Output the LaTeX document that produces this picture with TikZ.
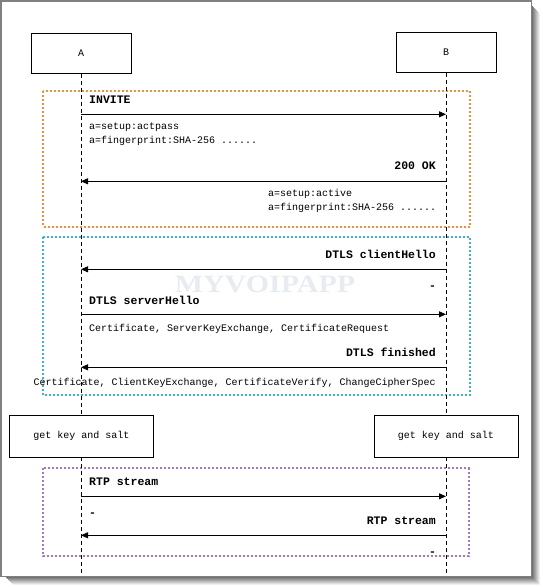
\documentclass[tikz,border=0pt]{standalone}
\usepackage{fontspec}
\usepackage{tikz}
\usetikzlibrary{positioning, arrows.meta}
\newfontfamily\simfont{Liberation Mono}
\newfontfamily\markfont{Liberation Serif}
\definecolor{phaseorange}{RGB}{240,144,60}
\definecolor{phasecyan}{RGB}{64,176,208}
\definecolor{phasepurple}{RGB}{160,120,200}
\definecolor{markgray}{RGB}{230,236,242}

\begin{document}
\begin{tikzpicture}[x=1pt, y=-1pt,
    actor/.style={draw, thick, fill=white, minimum width=100pt, minimum height=40pt, inner sep=0, font=\simfont\fontsize{10}{12}\selectfont},
    keybox/.style={draw, thick, fill=white, minimum width=144pt, minimum height=42pt, inner sep=0, font=\simfont\fontsize{10}{12}\selectfont},
    lifeline/.style={thick, dash pattern=on 4pt off 3pt},
    phase/.style={line width=2pt, dash pattern=on 2pt off 2pt},
    msg/.style={thick, -{Triangle[length=7pt, width=6pt]}},
    label/.style={inner sep=0, font=\simfont\bfseries\fontsize{11.5}{12}\selectfont},
    note/.style={inner sep=0, align=left, font=\simfont\fontsize{10}{14}\selectfont}]
    \useasboundingbox (0,0) rectangle (542,587);

    % Frame with its shadow
    \foreach \i in {1,...,8} {
        \pgfmathtruncatemacro\shade{62-7*\i}
        \draw[black!\shade, line width=1pt] (531.5+\i, 5+\i) -- (531.5+\i, 576.5+\i) -- (5+\i, 576.5+\i);
    }
    \draw[gray, line width=1.5pt] (0.75,0.75) rectangle (531.5,576.5);

    % Phase boxes
    \draw[phase, phaseorange] (43,91) rectangle (470,226.5);
    \draw[phase, phasecyan] (43,237) rectangle (470,395);
    \draw[phase, phasepurple] (43,468) rectangle (468.5,556);

    % Watermark
    \node[inner sep=0, text=markgray, xscale=1.2, font=\markfont\bfseries\fontsize{25}{25}\selectfont] (mark) at (265,284.5) {MYVOIPAPP};

    % Actors and key boxes
    \node[actor] (A) at (81,53.3) {A};
    \node[actor] (B) at (446,52.3) {B};
    \node[keybox] (keyA) at (81.5,436) {get key and salt};
    \node[keybox] (keyB) at (446,436) {get key and salt};
    \coordinate (endA) at (81,576);
    \coordinate (endB) at (446,576);

    % Lifelines
    \draw[lifeline] (A.south) -- (A |- keyA.north);
    \draw[lifeline] (A |- keyA.south) -- (endA);
    \draw[lifeline] (B.south) -- (keyB.north);
    \draw[lifeline] (keyB.south) -- (endB);

    % Points on the lifelines
    \foreach \n/\y in {1/114.3, 2/181.3, 3/269.3, 4/314.3, 5/367.3, 6/496.3, 7/535.3} {
        \coordinate (a\n) at (81,\y);
        \coordinate (b\n) at (446,\y);
    }

    % Signalling
    \node[label, anchor=west] (invite) at (89,99.5) {INVITE};
    \draw[msg] (a1) -- (b1);
    \node[note, anchor=north west] (offer) at (89,123) {a=setup:actpass\\a=fingerprint:SHA-256 ......};
    \node[label, anchor=east] (ok) at (436,166) {200 OK};
    \draw[msg] (b2) -- (a2);
    \node[note, anchor=north west] (answer) at (268,189.5) {a=setup:active\\a=fingerprint:SHA-256 ......};

    % DTLS handshake
    \node[label, anchor=east] (chello) at (436,254) {DTLS clientHello};
    \draw[msg] (b3) -- (a3);
    \node[label, anchor=center] (dash1) at (432.5,288) {-};
    \node[label, anchor=west] (shello) at (89,300) {DTLS serverHello};
    \draw[msg] (a4) -- (b4);
    \node[note, anchor=west] (scert) at (89,329.3) {Certificate, ServerKeyExchange, CertificateRequest};
    \node[label, anchor=east] (fin) at (436,352) {DTLS finished};
    \draw[msg] (b5) -- (a5);
    \node[note, anchor=east] (ccert) at (436,382.7) {Certificate, ClientKeyExchange, CertificateVerify, ChangeCipherSpec};

    % Media
    \node[label, anchor=west] (rtpA) at (89,481.7) {RTP stream};
    \draw[msg] (a6) -- (b6);
    \node[label, anchor=center] (dash2) at (92.7,515) {-};
    \node[label, anchor=east] (rtpB) at (436,520.3) {RTP stream};
    \draw[msg] (b7) -- (a7);
    \node[label, anchor=center] (dash3) at (432.5,553.5) {-};
\end{tikzpicture}
\end{document}
